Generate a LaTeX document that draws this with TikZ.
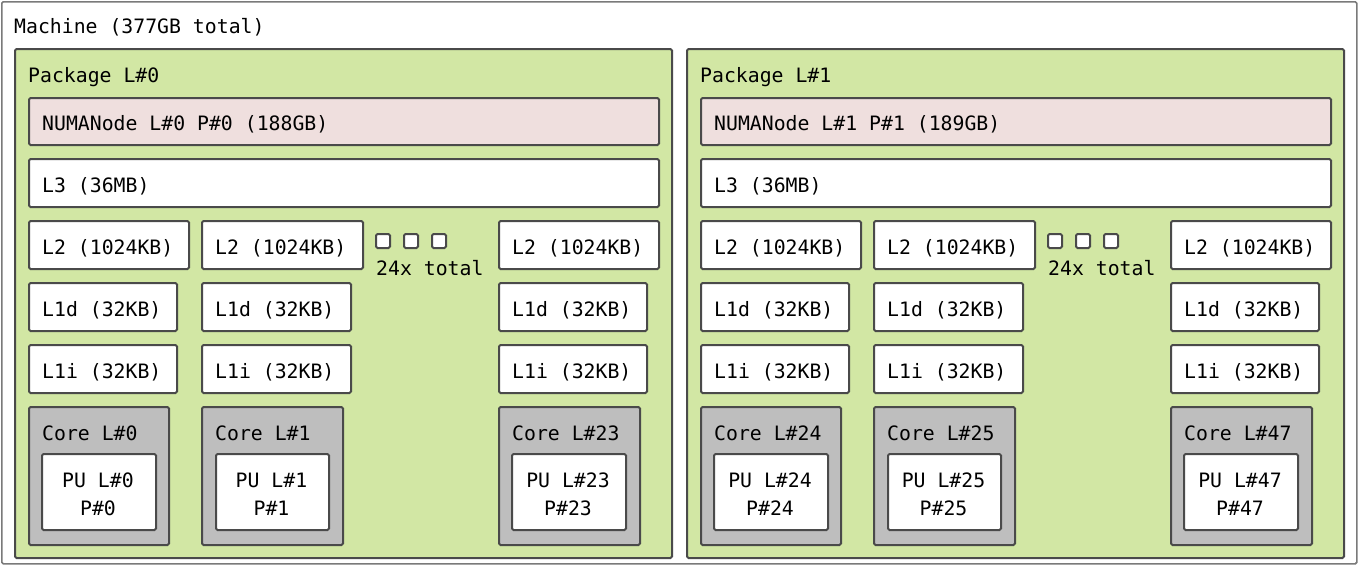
\documentclass[tikz,border=0pt]{standalone}
\usepackage{fontspec}
\setmainfont{DejaVu Sans Mono}
\definecolor{pkgc}{HTML}{D2E7A4}
\definecolor{numac}{HTML}{EFDFDE}
\definecolor{corec}{HTML}{BEBEBE}
\definecolor{linec}{HTML}{4A4A4A}
\definecolor{machc}{HTML}{7A7A7A}
\newcommand\bx[6]{\node[box,#6,minimum width=#4pt,minimum height=#5pt,anchor=north west] (#1) at (#2,#3) {};}
\newcommand\tx[4]{\node[lbl] (#1) at (#2,#3) {#4};}
\newcommand\tc[4]{\node[lbl,anchor=base] (#1) at (#2,#3) {#4};}
\begin{document}
\begin{tikzpicture}[x=1pt,y=-1pt,
  box/.style={draw=linec,line width=2pt,rounded corners=1.5pt,inner sep=0pt,fill=white},
  pkgbox/.style={fill=pkgc},
  numabox/.style={fill=numac},
  corebox/.style={fill=corec},
  plain/.style={fill=white},
  machbox/.style={fill=white,draw=machc,line width=1.6pt},
  lbl/.style={anchor=base west,inner sep=0pt,text=black,font=\fontsize{19.8}{24}\selectfont}]
\useasboundingbox (0,0) rectangle (1358,565);
\bx{machine}{1}{1}{1355}{562}{machbox}
\tx{machinet}{14}{33}{Machine (377GB total)}
\foreach \p/\o/\mem/\ca/\cb/\cc in {0/0/188/0/1/23,1/672/189/24/25/47}{
  \bx{pkg\p}{\o+14}{48}{657}{509}{pkgbox}
  \tx{pkgt\p}{\o+28}{82}{Package L\#\p}
  \bx{numa\p}{\o+28}{97}{630}{47}{numabox}
  \tx{numat\p}{\o+42}{130}{NUMANode L\#\p{} P\#\p{} (\mem GB)}
  \bx{lthree\p}{\o+28}{158}{630}{48}{plain}
  \tx{lthreet\p}{\o+42}{192}{L3 (36MB)}
  % L2
  \bx{ltwoa\p}{\o+28}{220}{160}{48}{plain}
  \tx{ltwoat\p}{\o+42}{254}{L2 (1024KB)}
  \bx{ltwob\p}{\o+201}{220}{161}{48}{plain}
  \tx{ltwobt\p}{\o+215}{254}{L2 (1024KB)}
  \bx{ltwoc\p}{\o+498}{220}{160}{48}{plain}
  \tx{ltwoct\p}{\o+512}{254}{L2 (1024KB)}
  % dots
  \bx{dota\p}{\o+375}{233}{14}{14}{plain}
  \bx{dotb\p}{\o+403}{233}{14}{14}{plain}
  \bx{dotc\p}{\o+431}{233}{14}{14}{plain}
  \tx{total\p}{\o+376}{275}{24x total}
  % L1d
  \bx{ldataa\p}{\o+28}{282}{148}{48}{plain}
  \tx{ldataat\p}{\o+42}{316}{L1d (32KB)}
  \bx{ldatab\p}{\o+201}{282}{149}{48}{plain}
  \tx{ldatabt\p}{\o+215}{316}{L1d (32KB)}
  \bx{ldatac\p}{\o+498}{282}{148}{48}{plain}
  \tx{ldatact\p}{\o+512}{316}{L1d (32KB)}
  % L1i
  \bx{linsa\p}{\o+28}{344}{148}{48}{plain}
  \tx{linsat\p}{\o+42}{378}{L1i (32KB)}
  \bx{linsb\p}{\o+201}{344}{149}{48}{plain}
  \tx{linsbt\p}{\o+215}{378}{L1i (32KB)}
  \bx{linsc\p}{\o+498}{344}{148}{48}{plain}
  \tx{linsct\p}{\o+512}{378}{L1i (32KB)}
  % cores
  \bx{corea\p}{\o+28}{406}{140}{138}{corebox}
  \tx{coreat\p}{\o+42}{440}{Core L\#\ca}
  \bx{pua\p}{\o+41}{453}{114}{76}{plain}
  \tc{puaa\p}{\o+98}{487}{PU L\#\ca}
  \tc{puab\p}{\o+98}{515}{P\#\ca}
  \bx{coreb\p}{\o+201}{406}{141}{138}{corebox}
  \tx{corebt\p}{\o+215}{440}{Core L\#\cb}
  \bx{pub\p}{\o+215}{453}{113}{76}{plain}
  \tc{puba\p}{\o+271.5}{487}{PU L\#\cb}
  \tc{pubb\p}{\o+271.5}{515}{P\#\cb}
  \bx{corec\p}{\o+498}{406}{141}{138}{corebox}
  \tx{corect\p}{\o+512}{440}{Core L\#\cc}
  \bx{puc\p}{\o+511}{453}{114}{76}{plain}
  \tc{puca\p}{\o+568}{487}{PU L\#\cc}
  \tc{pucb\p}{\o+568}{515}{P\#\cc}
}
\end{tikzpicture}
\end{document}
